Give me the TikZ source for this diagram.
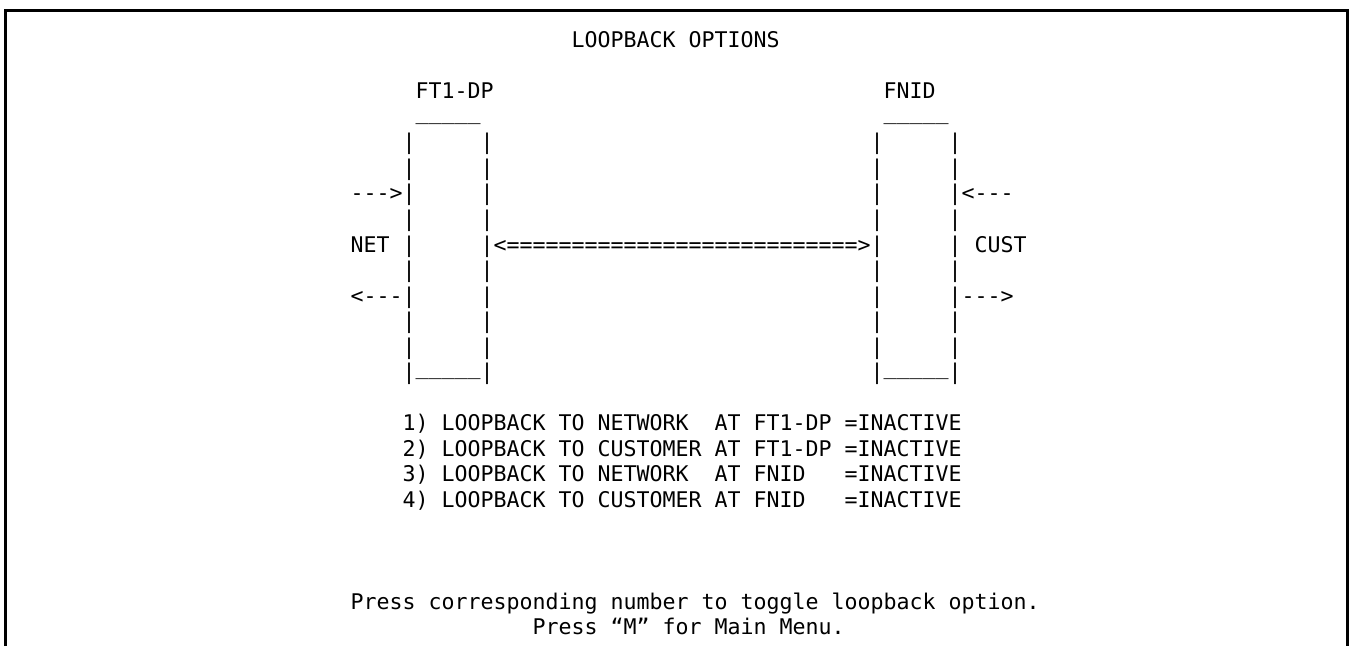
\documentclass[tikz,border=0pt]{standalone}
\usepackage{fontspec}
\setmonofont{DejaVu Sans Mono}
% character grid: column c starts at x = 350.5 + 13c, row r has baseline y = 252 + 25.53r
\newcommand\colx[1]{350.5+13*(#1)}
\newcommand\rowb[1]{252+25.53*(#1)}
% five underscores, lifted to sit level with the foot of the bars
\newcommand\lid{\raisebox{5pt}{\_\_\_\_\_}}
\begin{document}
\begin{tikzpicture}[x=1pt,y=-1pt,
  scr/.style={anchor=base west, inner sep=0pt, outer sep=0pt,
    font=\ttfamily\fontsize{21.6}{25.5}\selectfont\frenchspacing},
  frame/.style={line width=3pt}]
\useasboundingbox (0,0) rectangle (1351,646);
\fill[white] (0,0) rectangle (1351,646);

% screen frame, open at the bottom
\draw[frame] (5.5,646) -- (5.5,10) -- (1347,10) -- (1347,646);

% heading and unit names
\node[scr] (title) at ({\colx{17}},{\rowb{-8}}) {LOOPBACK OPTIONS};
\node[scr] (ft1name) at ({\colx{5}},{\rowb{-6}}) {FT1-DP};
\node[scr] (fnidname) at ({\colx{41}},{\rowb{-6}}) {FNID};

% box lids
\node[scr] (ft1lid) at ({\colx{5}},{\rowb{-5}}) {\lid};
\node[scr] (fnidlid) at ({\colx{41}},{\rowb{-5}}) {\lid};

% box sides
\foreach \r in {-4,...,4}{
  \node[scr] (ft1side\r) at ({\colx{4}},{\rowb{\r}}) {|~~~~~|};
  \node[scr] (fnidside\r) at ({\colx{40}},{\rowb{\r}}) {|~~~~~|};
}
\node[scr] (ft1base) at ({\colx{4}},{\rowb{5}}) {|\lid|};
\node[scr] (fnidbase) at ({\colx{40}},{\rowb{5}}) {|\lid|};

% network side
\node[scr] (netin) at ({\colx{0}},{\rowb{-2}}) {--->};
\node[scr] (net) at ({\colx{0}},{\rowb{0}}) {NET};
\node[scr] (netout) at ({\colx{0}},{\rowb{2}}) {<---};

% link between the units
\node[scr] (link) at ({\colx{11}},{\rowb{0}}) {<===========================>};

% customer side
\node[scr] (custin) at ({\colx{47}},{\rowb{-2}}) {<---};
\node[scr] (cust) at ({\colx{48}},{\rowb{0}}) {CUST};
\node[scr] (custout) at ({\colx{47}},{\rowb{2}}) {--->};

% option list
\node[scr] (opt1) at ({\colx{4}},{\rowb{7}}) {1) LOOPBACK TO NETWORK~~AT FT1-DP =INACTIVE};
\node[scr] (opt2) at ({\colx{4}},{\rowb{8}}) {2) LOOPBACK TO CUSTOMER AT FT1-DP =INACTIVE};
\node[scr] (opt3) at ({\colx{4}},{\rowb{9}}) {3) LOOPBACK TO NETWORK~~AT FNID~~~=INACTIVE};
\node[scr] (opt4) at ({\colx{4}},{\rowb{10}}) {4) LOOPBACK TO CUSTOMER AT FNID~~~=INACTIVE};

% prompts
\node[scr] (prompt1) at ({\colx{0}},{\rowb{14}}) {Press corresponding number to toggle loopback option.};
\node[scr] (prompt2) at ({\colx{14}},{\rowb{15}}) {Press “M” for Main Menu.};
\end{tikzpicture}
\end{document}
